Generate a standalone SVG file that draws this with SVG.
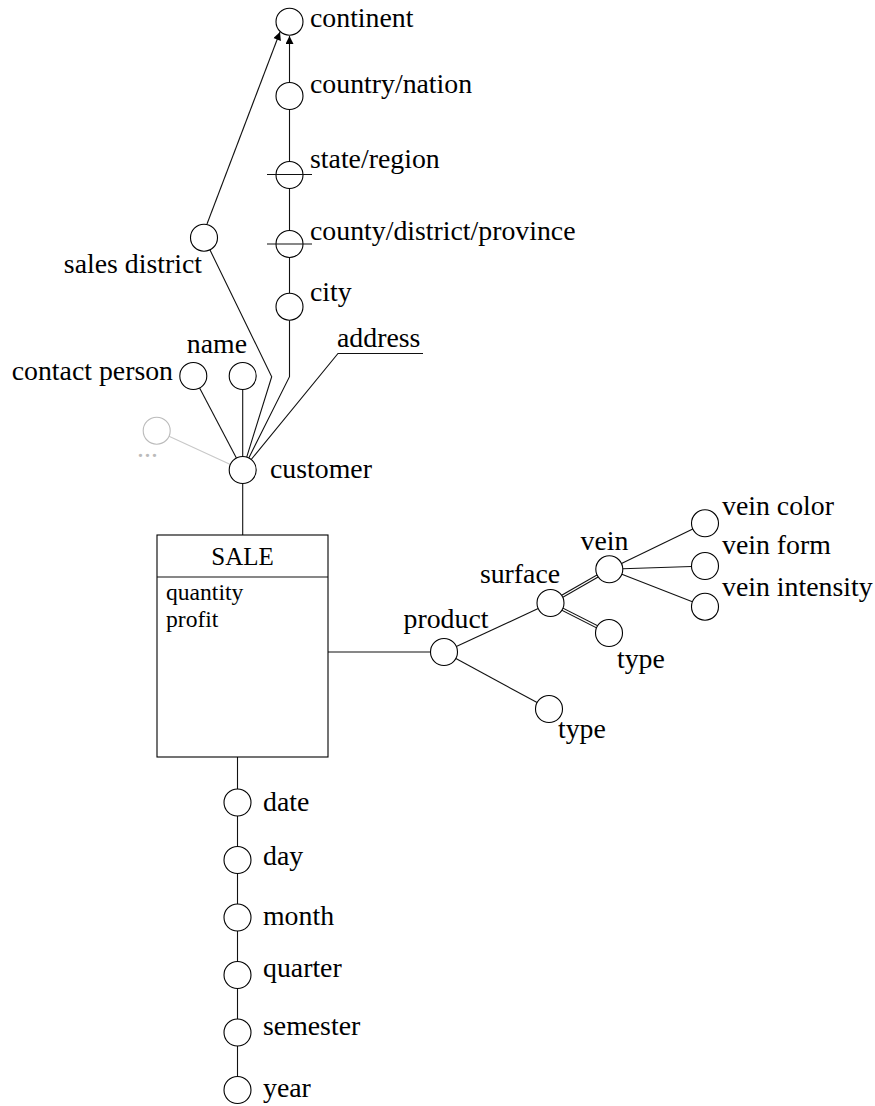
<svg xmlns="http://www.w3.org/2000/svg" width="875" height="1106" viewBox="0 0 875 1106">
<style>
text{font-family:"Liberation Serif","DejaVu Serif",serif;font-size:27.8px;fill:#000}
.n{fill:#fff;stroke:#000;stroke-width:1.1}
.ln{fill:none;stroke:#111;stroke-width:1.1}
.dbl{fill:none;stroke:#111;stroke-width:3.4}
.dblw{fill:none;stroke:#fff;stroke-width:1.3}
.gray{fill:#fff;stroke:#bbb;stroke-width:1.1}
.small{font-size:23.6px}
.title{font-size:25px}
</style>
<defs>
<marker id="arr" markerUnits="userSpaceOnUse" viewBox="0 0 10 10" refX="10" refY="5" markerWidth="9" markerHeight="8" orient="auto">
<path d="M0,0 L10,5 L0,10 z" fill="#000"/>
</marker>
</defs>
<g id="connectors">
<line class="ln" x1="289.5" y1="82.5" x2="289.5" y2="36" marker-end="url(#arr)"/>
<line class="ln" x1="207" y1="224" x2="280" y2="32" marker-end="url(#arr)"/>
<line class="ln" x1="289.5" y1="109.5" x2="289.5" y2="161.5"/>
<line class="ln" x1="289.5" y1="188.5" x2="289.5" y2="230.5"/>
<line class="ln" x1="289.5" y1="257.5" x2="289.5" y2="293.2"/>
<polyline class="ln" points="289.5,320.2 289.5,376.7 248.8,457.9"/>
<polyline class="ln" points="209.9,249.8 271.7,376.7 246.7,457.1"/>
<polyline class="ln" points="423,353.5 338,353.5 251.2,459.5"/>
<line class="ln" x1="199.6" y1="388" x2="236.4" y2="458"/>
<line class="ln" x1="242.7" y1="389.5" x2="242.7" y2="456.5"/>
<line x1="169" y1="436.3" x2="230.4" y2="464.4" stroke="#c8c8c8" stroke-width="1.1"/>
<line class="ln" x1="242.7" y1="483.5" x2="242.7" y2="535"/>
<line class="ln" x1="328" y1="652" x2="430.5" y2="652"/>
<line class="ln" x1="456.3" y1="646.4" x2="538.2" y2="608.6"/>
<line class="ln" x1="455.9" y1="658.4" x2="537.1" y2="702.6"/>
<line class="dbl" x1="562.2" y1="596.3" x2="597.6" y2="576"/>
<line class="dblw" x1="561" y1="597" x2="598.8" y2="575.3"/>
<line class="dbl" x1="562.5" y1="609.2" x2="597" y2="626.8"/>
<line class="dblw" x1="561.3" y1="608.6" x2="598.2" y2="627.4"/>
<line class="ln" x1="621.5" y1="563.4" x2="692.8" y2="529.1"/>
<line class="ln" x1="622.8" y1="568.8" x2="691.5" y2="566.5"/>
<line class="ln" x1="621.9" y1="574.2" x2="692.4" y2="601.8"/>
<line class="ln" x1="237.5" y1="757" x2="237.5" y2="789"/>
<line class="ln" x1="237.5" y1="816" x2="237.5" y2="846.5"/>
<line class="ln" x1="237.5" y1="873.5" x2="237.5" y2="904"/>
<line class="ln" x1="237.5" y1="931" x2="237.5" y2="961.5"/>
<line class="ln" x1="237.5" y1="988.5" x2="237.5" y2="1019"/>
<line class="ln" x1="237.5" y1="1046" x2="237.5" y2="1076.5"/>
</g>
<g id="continent"><circle class="n" cx="289.5" cy="21.7" r="13.5"/><text x="310" y="27">continent</text></g>
<g id="country"><circle class="n" cx="289.5" cy="96" r="13.5"/><text x="310" y="93">country/nation</text></g>
<g id="state"><circle class="n" cx="289.5" cy="175" r="13.5"/><line class="ln" x1="267" y1="174.5" x2="312" y2="174.5"/><text x="310" y="168">state/region</text></g>
<g id="county"><circle class="n" cx="289.5" cy="244" r="13.5"/><line class="ln" x1="267" y1="244" x2="312" y2="244"/><text x="310" y="240">county/district/province</text></g>
<g id="city"><circle class="n" cx="289.5" cy="306.7" r="13.5"/><text x="310" y="301">city</text></g>
<g id="sales-district"><circle class="n" cx="204" cy="237.7" r="13.5"/><text x="202" y="273" text-anchor="end">sales district</text></g>
<g id="address"><text x="337" y="347">address</text></g>
<g id="name"><circle class="n" cx="242.7" cy="376" r="13.5"/><text x="247" y="353" text-anchor="end">name</text></g>
<g id="contact-person"><circle class="n" cx="193.3" cy="376" r="13.5"/><text x="173" y="380" text-anchor="end">contact person</text></g>
<g id="more"><circle class="gray" cx="156.7" cy="430.7" r="13.5"/><text x="147.5" y="457" text-anchor="middle" style="fill:#bbb">...</text></g>
<g id="customer"><circle class="n" cx="242.7" cy="470" r="13.5"/><text x="270" y="478">customer</text></g>
<g id="sale">
<rect x="157" y="535" width="171" height="222" fill="#fff" stroke="#000" stroke-width="1.1"/>
<line class="ln" x1="157" y1="577" x2="328" y2="577"/>
<text class="title" x="242.5" y="565" text-anchor="middle">SALE</text>
<text class="small" x="166" y="600">quantity</text>
<text class="small" x="166" y="626.5">profit</text>
</g>
<g id="product"><circle class="n" cx="444" cy="652" r="13.5"/><text x="446" y="628" text-anchor="middle">product</text></g>
<g id="type-product"><circle class="n" cx="549" cy="709" r="13.5"/><text x="558" y="738">type</text></g>
<g id="surface"><circle class="n" cx="550.5" cy="603" r="13.5"/><text x="520" y="583" text-anchor="middle">surface</text></g>
<g id="type-surface"><circle class="n" cx="609" cy="633" r="13.5"/><text x="617" y="668">type</text></g>
<g id="vein"><circle class="n" cx="609.3" cy="569.3" r="13.5"/><text x="604.5" y="550" text-anchor="middle">vein</text></g>
<g id="vein-color"><circle class="n" cx="705" cy="523.3" r="13.5"/><text x="722" y="515">vein color</text></g>
<g id="vein-form"><circle class="n" cx="705" cy="566" r="13.5"/><text x="722" y="554">vein form</text></g>
<g id="vein-intensity"><circle class="n" cx="705" cy="606.7" r="13.5"/><text x="722" y="596">vein intensity</text></g>
<g id="date"><circle class="n" cx="237.5" cy="802.5" r="13.5"/><text x="263" y="811">date</text></g>
<g id="day"><circle class="n" cx="237.5" cy="860" r="13.5"/><text x="263" y="865">day</text></g>
<g id="month"><circle class="n" cx="237.5" cy="917.5" r="13.5"/><text x="263" y="925">month</text></g>
<g id="quarter"><circle class="n" cx="237.5" cy="975" r="13.5"/><text x="263" y="977">quarter</text></g>
<g id="semester"><circle class="n" cx="237.5" cy="1032.5" r="13.5"/><text x="263" y="1035">semester</text></g>
<g id="year"><circle class="n" cx="237.5" cy="1090" r="13.5"/><text x="263" y="1097">year</text></g>
</svg>
